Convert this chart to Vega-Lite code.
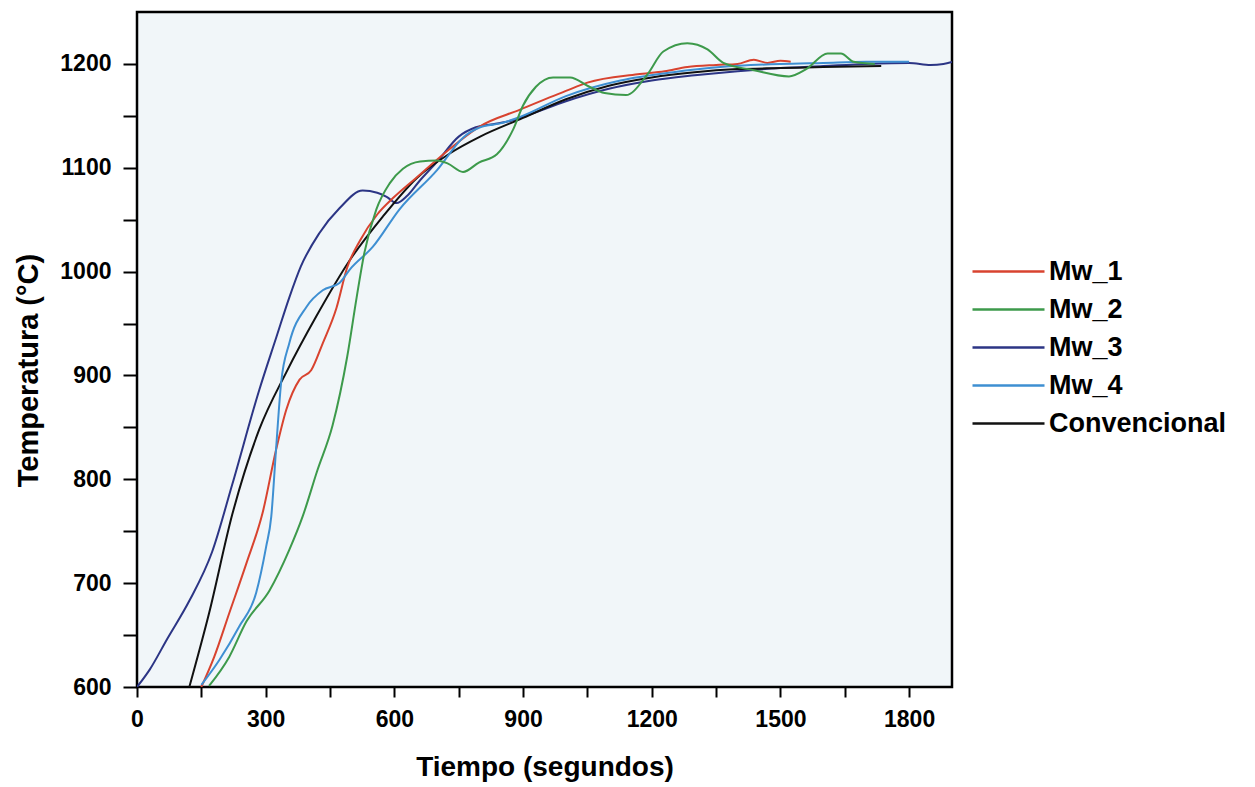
{
  "$schema": "https://vega.github.io/schema/vega-lite/v6.json",
  "width": 815,
  "height": 675,
  "autosize": "none",
  "padding": {"left": 137, "top": 12, "right": 303, "bottom": 100},
  "background": "white",
  "config": {
    "view": {"fill": "#f1f6f9", "stroke": "#000000", "strokeWidth": 2.5},
    "font": "Liberation Sans"
  },
  "data": {
    "values": [
      {"series": "Mw_3", "t": 0, "T": 600},
      {"series": "Mw_3", "t": 30, "T": 617},
      {"series": "Mw_3", "t": 70, "T": 646},
      {"series": "Mw_3", "t": 122, "T": 683},
      {"series": "Mw_3", "t": 175, "T": 730},
      {"series": "Mw_3", "t": 222, "T": 795},
      {"series": "Mw_3", "t": 285, "T": 886},
      {"series": "Mw_3", "t": 325, "T": 937},
      {"series": "Mw_3", "t": 355, "T": 975},
      {"series": "Mw_3", "t": 382, "T": 1005},
      {"series": "Mw_3", "t": 425, "T": 1037},
      {"series": "Mw_3", "t": 472, "T": 1061},
      {"series": "Mw_3", "t": 526, "T": 1078},
      {"series": "Mw_3", "t": 560, "T": 1076},
      {"series": "Mw_3", "t": 582, "T": 1072},
      {"series": "Mw_3", "t": 605, "T": 1066},
      {"series": "Mw_3", "t": 630, "T": 1073},
      {"series": "Mw_3", "t": 660, "T": 1088},
      {"series": "Mw_3", "t": 700, "T": 1106},
      {"series": "Mw_3", "t": 750, "T": 1130},
      {"series": "Mw_3", "t": 790, "T": 1139},
      {"series": "Mw_3", "t": 830, "T": 1142},
      {"series": "Mw_3", "t": 870, "T": 1145},
      {"series": "Mw_3", "t": 920, "T": 1152},
      {"series": "Mw_3", "t": 1000, "T": 1164},
      {"series": "Mw_3", "t": 1100, "T": 1176},
      {"series": "Mw_3", "t": 1200, "T": 1184},
      {"series": "Mw_3", "t": 1300, "T": 1189},
      {"series": "Mw_3", "t": 1400, "T": 1193},
      {"series": "Mw_3", "t": 1500, "T": 1196},
      {"series": "Mw_3", "t": 1600, "T": 1198},
      {"series": "Mw_3", "t": 1700, "T": 1200},
      {"series": "Mw_3", "t": 1800, "T": 1201},
      {"series": "Mw_3", "t": 1850, "T": 1199},
      {"series": "Mw_3", "t": 1880, "T": 1200},
      {"series": "Mw_3", "t": 1900, "T": 1202},

      {"series": "Convencional", "t": 122, "T": 600},
      {"series": "Convencional", "t": 168, "T": 671},
      {"series": "Convencional", "t": 222, "T": 766},
      {"series": "Convencional", "t": 285, "T": 848},
      {"series": "Convencional", "t": 348, "T": 903},
      {"series": "Convencional", "t": 418, "T": 957},
      {"series": "Convencional", "t": 496, "T": 1011},
      {"series": "Convencional", "t": 573, "T": 1053},
      {"series": "Convencional", "t": 652, "T": 1090},
      {"series": "Convencional", "t": 730, "T": 1114},
      {"series": "Convencional", "t": 800, "T": 1130},
      {"series": "Convencional", "t": 900, "T": 1148},
      {"series": "Convencional", "t": 1000, "T": 1166},
      {"series": "Convencional", "t": 1100, "T": 1179},
      {"series": "Convencional", "t": 1200, "T": 1187},
      {"series": "Convencional", "t": 1300, "T": 1192},
      {"series": "Convencional", "t": 1400, "T": 1195},
      {"series": "Convencional", "t": 1500, "T": 1196},
      {"series": "Convencional", "t": 1600, "T": 1197},
      {"series": "Convencional", "t": 1735, "T": 1198},

      {"series": "Mw_1", "t": 150, "T": 600},
      {"series": "Mw_1", "t": 180, "T": 629},
      {"series": "Mw_1", "t": 215, "T": 671},
      {"series": "Mw_1", "t": 255, "T": 719},
      {"series": "Mw_1", "t": 293, "T": 768},
      {"series": "Mw_1", "t": 324, "T": 828},
      {"series": "Mw_1", "t": 348, "T": 867},
      {"series": "Mw_1", "t": 379, "T": 896},
      {"series": "Mw_1", "t": 406, "T": 905},
      {"series": "Mw_1", "t": 433, "T": 931},
      {"series": "Mw_1", "t": 465, "T": 965},
      {"series": "Mw_1", "t": 490, "T": 1004},
      {"series": "Mw_1", "t": 520, "T": 1030},
      {"series": "Mw_1", "t": 560, "T": 1055},
      {"series": "Mw_1", "t": 600, "T": 1072},
      {"series": "Mw_1", "t": 650, "T": 1090},
      {"series": "Mw_1", "t": 700, "T": 1108},
      {"series": "Mw_1", "t": 750, "T": 1125},
      {"series": "Mw_1", "t": 800, "T": 1140},
      {"series": "Mw_1", "t": 893, "T": 1156},
      {"series": "Mw_1", "t": 1000, "T": 1174},
      {"series": "Mw_1", "t": 1050, "T": 1182},
      {"series": "Mw_1", "t": 1167, "T": 1190},
      {"series": "Mw_1", "t": 1230, "T": 1193},
      {"series": "Mw_1", "t": 1283, "T": 1197},
      {"series": "Mw_1", "t": 1350, "T": 1199},
      {"series": "Mw_1", "t": 1400, "T": 1200},
      {"series": "Mw_1", "t": 1438, "T": 1204},
      {"series": "Mw_1", "t": 1470, "T": 1201},
      {"series": "Mw_1", "t": 1500, "T": 1203},
      {"series": "Mw_1", "t": 1524, "T": 1202},

      {"series": "Mw_4", "t": 150, "T": 602},
      {"series": "Mw_4", "t": 192, "T": 626},
      {"series": "Mw_4", "t": 238, "T": 658},
      {"series": "Mw_4", "t": 278, "T": 691},
      {"series": "Mw_4", "t": 301, "T": 735},
      {"series": "Mw_4", "t": 313, "T": 764},
      {"series": "Mw_4", "t": 324, "T": 828},
      {"series": "Mw_4", "t": 336, "T": 893},
      {"series": "Mw_4", "t": 355, "T": 931},
      {"series": "Mw_4", "t": 395, "T": 966},
      {"series": "Mw_4", "t": 433, "T": 982},
      {"series": "Mw_4", "t": 472, "T": 989},
      {"series": "Mw_4", "t": 496, "T": 1002},
      {"series": "Mw_4", "t": 550, "T": 1024},
      {"series": "Mw_4", "t": 612, "T": 1060},
      {"series": "Mw_4", "t": 700, "T": 1098},
      {"series": "Mw_4", "t": 760, "T": 1129},
      {"series": "Mw_4", "t": 800, "T": 1139},
      {"series": "Mw_4", "t": 850, "T": 1143},
      {"series": "Mw_4", "t": 893, "T": 1149},
      {"series": "Mw_4", "t": 1000, "T": 1169},
      {"series": "Mw_4", "t": 1127, "T": 1184},
      {"series": "Mw_4", "t": 1250, "T": 1192},
      {"series": "Mw_4", "t": 1360, "T": 1197},
      {"series": "Mw_4", "t": 1500, "T": 1200},
      {"series": "Mw_4", "t": 1600, "T": 1201},
      {"series": "Mw_4", "t": 1700, "T": 1202},
      {"series": "Mw_4", "t": 1800, "T": 1202},

      {"series": "Mw_2", "t": 168, "T": 601},
      {"series": "Mw_2", "t": 215, "T": 629},
      {"series": "Mw_2", "t": 255, "T": 663},
      {"series": "Mw_2", "t": 309, "T": 693},
      {"series": "Mw_2", "t": 355, "T": 732},
      {"series": "Mw_2", "t": 386, "T": 764},
      {"series": "Mw_2", "t": 420, "T": 808},
      {"series": "Mw_2", "t": 456, "T": 852},
      {"series": "Mw_2", "t": 490, "T": 918},
      {"series": "Mw_2", "t": 512, "T": 975},
      {"series": "Mw_2", "t": 530, "T": 1018},
      {"series": "Mw_2", "t": 558, "T": 1060},
      {"series": "Mw_2", "t": 589, "T": 1085},
      {"series": "Mw_2", "t": 620, "T": 1099},
      {"series": "Mw_2", "t": 660, "T": 1106},
      {"series": "Mw_2", "t": 699, "T": 1107},
      {"series": "Mw_2", "t": 725, "T": 1104},
      {"series": "Mw_2", "t": 760, "T": 1096},
      {"series": "Mw_2", "t": 797, "T": 1105},
      {"series": "Mw_2", "t": 839, "T": 1113},
      {"series": "Mw_2", "t": 877, "T": 1137},
      {"series": "Mw_2", "t": 900, "T": 1160},
      {"series": "Mw_2", "t": 930, "T": 1178},
      {"series": "Mw_2", "t": 970, "T": 1187},
      {"series": "Mw_2", "t": 1010, "T": 1187},
      {"series": "Mw_2", "t": 1050, "T": 1179},
      {"series": "Mw_2", "t": 1090, "T": 1172},
      {"series": "Mw_2", "t": 1140, "T": 1170},
      {"series": "Mw_2", "t": 1190, "T": 1190},
      {"series": "Mw_2", "t": 1227, "T": 1212},
      {"series": "Mw_2", "t": 1283, "T": 1220},
      {"series": "Mw_2", "t": 1330, "T": 1214},
      {"series": "Mw_2", "t": 1367, "T": 1201},
      {"series": "Mw_2", "t": 1438, "T": 1194},
      {"series": "Mw_2", "t": 1520, "T": 1188},
      {"series": "Mw_2", "t": 1560, "T": 1195},
      {"series": "Mw_2", "t": 1610, "T": 1210},
      {"series": "Mw_2", "t": 1641, "T": 1210},
      {"series": "Mw_2", "t": 1671, "T": 1202},
      {"series": "Mw_2", "t": 1720, "T": 1200}
    ]
  },
  "mark": {"type": "line", "strokeWidth": 2, "interpolate": "monotone", "clip": true},
  "encoding": {
    "x": {
      "field": "t", "type": "quantitative",
      "scale": {"domain": [0, 1900], "nice": false, "zero": false},
      "axis": {
        "title": "Tiempo (segundos)",
        "values": [0, 150, 300, 450, 600, 750, 900, 1050, 1200, 1350, 1500, 1650, 1800],
        "format": "d",
        "labelExpr": "datum.value % 300 === 0 ? datum.label : ''",
        "grid": false, "domain": false,
        "tickColor": "#000", "tickSize": 10, "tickWidth": 2,
        "labelFontSize": 23, "labelFontWeight": "bold", "labelColor": "#000", "labelPadding": 11,
        "labelFlush": false,
        "titleFontSize": 28, "titleFontWeight": "bold", "titleColor": "#000", "titlePadding": 22
      }
    },
    "y": {
      "field": "T", "type": "quantitative",
      "scale": {"domain": [600, 1250], "nice": false, "zero": false},
      "axis": {
        "title": "Temperatura (°C)",
        "values": [600, 650, 700, 750, 800, 850, 900, 950, 1000, 1050, 1100, 1150, 1200],
        "format": "d",
        "labelExpr": "datum.value % 100 === 0 ? datum.label : ''",
        "grid": false, "domain": false,
        "tickColor": "#000", "tickSize": 14, "tickWidth": 2,
        "labelFontSize": 23, "labelFontWeight": "bold", "labelColor": "#000", "labelPadding": 12,
        "labelFlush": false,
        "titleFontSize": 29, "titleFontWeight": "bold", "titleColor": "#000",
        "titleX": -109, "titleY": 358, "titleAngle": -90,
        "titleAlign": "center", "titleBaseline": "middle"
      }
    },
    "color": {
      "field": "series", "type": "nominal",
      "scale": {
        "domain": ["Mw_1", "Mw_2", "Mw_3", "Mw_4", "Convencional"],
        "range": ["#d8432f", "#3d9a4b", "#2c3585", "#3e8fd2", "#111111"]
      },
      "legend": {
        "title": null,
        "orient": "none", "legendX": 832, "legendY": 246,
        "padding": 0,
        "symbolType": "M-1,0L6.2,0", "symbolSize": 400, "symbolStrokeWidth": 2.5,
        "labelFontSize": 27, "labelFontWeight": "bold", "labelColor": "#000",
        "labelOffset": 53, "rowPadding": 10, "labelLimit": 400
      }
    }
  }
}
